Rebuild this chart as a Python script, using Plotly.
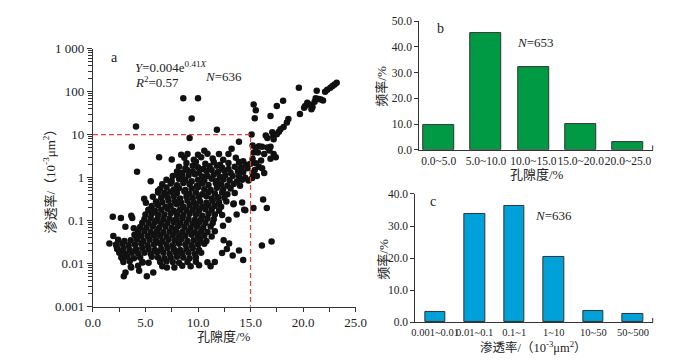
import plotly.graph_objects as go

# ---------------- Panel a: porosity (%) vs permeability (10^-3 um^2) ----------------
# upper outliers
por_hi = [8.6, 10.0, 9.4, 4.1, 11.8, 9.2, 3.7, 6.3, 7.5, 8.4, 9.0, 10.0, 4.2, 10.6, 10.9, 12.0, 13.2, 13.9, 15.1, 12.9]
perm_hi = [70, 70, 23.7, 15.4, 13.0, 8.4, 5.2, 3.0, 2.65, 3.4, 3.55, 3.4, 1.38, 4.2, 3.6, 3.55, 4.7, 6.8, 10.0, 3.55]
# right branch (15-19 %)
por_rb = [15.2, 15.3, 15.2, 15.5, 15.8, 16.1, 16.6, 16.9, 15.7, 16.3,
          17.2, 17.4, 16.9, 16.0, 15.5, 15.8, 16.1, 15.4, 15.2, 16.3,
          16.45, 16.6, 17.07, 17.17, 17.2, 17.5, 17.7, 17.85, 18.15, 18.46,
          18.6, 15.16, 15.6, 16.8]
perm_rb = [5.6, 3.85, 2.75, 4.98, 5.4, 5.2, 5.0, 5.2, 3.85, 3.55,
           3.55, 2.98, 2.75, 2.5, 2.15, 1.8, 1.65, 1.5, 1.28, 1.28,
           9.5, 8.3, 11.3, 9.1, 7.8, 10.2, 11.7, 13.4, 15.1, 19.2,
           23.2, 0.98, 1.1, 4.3]
# upper right (high permeability)
por_ur = [15.3, 15.5, 15.4, 17.5, 18.1, 16.9, 19.6, 19.7, 21.3, 20.2,
          20.4, 20.6, 20.9, 21.1, 21.2, 21.5, 21.7, 20.8, 22.1, 22.3,
          22.6, 22.8, 23.0, 23.2, 21.9, 20.1]
perm_ur = [50, 37, 24, 46, 61, 27, 122, 30, 105, 46,
           55, 50, 44, 58, 70, 67, 65, 39, 99, 110,
           122, 135, 145, 160, 62, 42]
# lower right sparse
por_lr = [16.2, 16.55, 15.28, 14.2, 14.5, 13.68, 13.37, 12.9, 12.38, 12.44,
          12.96, 12.75, 13.9, 13.3, 14.3, 16.08, 17.0, 12.29, 14.4, 13.4]
perm_lr = [0.312, 0.197, 0.197, 0.264, 0.175, 0.14, 0.24, 0.106, 0.076, 0.035,
           0.0295, 0.0221, 0.0203, 0.0155, 0.0123, 0.0266, 0.0327, 0.0177, 0.18, 0.25]
# left sparse
por_ls = [1.89, 2.66, 3.65, 3.74, 3.09, 1.94, 1.57, 3.95, 5.5, 4.88,
          5.04, 6.2, 5.28, 2.94, 3.1, 3.65, 4.4, 5.13, 5.74, 4.73,
          7.04, 7.75, 2.26, 2.72, 2.87, 3.89, 6.82, 6.9]
perm_ls = [0.124, 0.116, 0.131, 0.116, 0.072, 0.044, 0.0295, 0.047, 0.83, 0.324,
           0.26, 0.495, 0.178, 0.0051, 0.0063, 0.0082, 0.0069, 0.0051, 0.0063, 0.0107,
           0.0082, 0.0082, 0.0249, 0.0193, 0.0126, 0.067, 0.44, 0.42]
# dense core, read band by band
por_b1 = [8.7, 9.6, 10.3, 11.4, 12.4, 13.6, 14.3]
perm_b1 = [2.9, 2.6, 3.0, 2.8, 2.6, 2.9, 2.4]
por_b2 = [8.9, 9.8, 10.7, 11.5, 12.1, 12.9, 13.9, 14.6, 15.0]
perm_b2 = [2.2, 2.35, 2.1, 2.3, 2.0, 2.2, 2.3, 2.0, 2.1]
por_b3 = [8.2, 8.8, 9.5, 10.0, 10.5, 11.1, 11.8, 12.3, 12.9, 13.5, 14.1, 14.7]
perm_b3 = [1.8, 1.65, 1.9, 1.75, 1.6, 1.85, 1.9, 1.7, 1.6, 1.8, 1.75, 1.65]
por_b4 = [8.0, 8.5, 9.0, 9.5, 10.1, 10.8, 11.3, 11.9, 12.5, 13.1, 13.8, 14.3]
perm_b4 = [1.4, 1.3, 1.48, 1.4, 1.3, 1.42, 1.5, 1.35, 1.45, 1.3, 1.4, 1.33]
por_b5 = [7.6, 8.0, 8.5, 9.1, 9.7, 10.4, 10.9, 11.5, 12.1, 12.6, 13.3, 13.9, 14.5]
perm_b5 = [1.1, 1.18, 1.03, 1.12, 1.2, 1.06, 1.1, 1.17, 1.04, 1.13, 1.1, 1.06, 1.0]
por_b6 = [7.0, 7.5, 8.2, 8.8, 9.4, 10.0, 10.6, 11.3, 11.8, 12.4, 13.0, 13.7, 14.2, 14.8]
perm_b6 = [0.9, 0.84, 0.93, 0.87, 0.83, 0.9, 0.86, 0.94, 0.84, 0.91, 0.87, 0.82, 0.9, 0.86]
por_b7 = [6.6, 7.4, 8.0, 8.6, 9.2, 9.9, 10.4, 11.0, 11.7, 12.2, 12.8, 13.4, 14.0]
perm_b7 = [0.7, 0.73, 0.67, 0.75, 0.7, 0.65, 0.73, 0.68, 0.74, 0.7, 0.66, 0.71, 0.65]
por_b8 = [6.4, 7.0, 7.7, 8.2, 8.8, 9.4, 10.0, 10.6, 11.2, 11.8, 12.4, 13.1]
perm_b8 = [0.55, 0.59, 0.53, 0.57, 0.52, 0.56, 0.6, 0.54, 0.52, 0.58, 0.54, 0.56]
por_b9 = [6.2, 6.8, 7.4, 8.0, 8.7, 9.2, 9.8, 10.4, 11.0, 11.6, 12.3, 12.8, 13.5]
perm_b9 = [0.45, 0.42, 0.47, 0.44, 0.48, 0.42, 0.45, 0.41, 0.46, 0.43, 0.45, 0.41, 0.44]
por_b10 = [5.7, 6.5, 7.1, 7.7, 8.3, 8.9, 9.5, 10.1, 10.8, 11.3, 11.9, 12.5]
perm_b10 = [0.36, 0.34, 0.35, 0.37, 0.33, 0.36, 0.34, 0.35, 0.37, 0.33, 0.35, 0.34]
por_b11 = [6.0, 6.6, 7.2, 7.8, 8.4, 9.0, 9.6, 10.2, 10.8, 11.4, 12.0, 12.7]
perm_b11 = [0.28, 0.27, 0.29, 0.28, 0.26, 0.29, 0.27, 0.28, 0.26, 0.29, 0.27, 0.28]
por_b12 = [5.6, 6.2, 6.9, 7.4, 8.0, 8.6, 9.2, 9.8, 10.4, 11.0, 11.6, 12.2]
perm_b12 = [0.22, 0.23, 0.21, 0.22, 0.24, 0.21, 0.23, 0.22, 0.21, 0.23, 0.22, 0.21]
por_b13 = [5.3, 5.9, 6.5, 7.1, 7.7, 8.3, 8.9, 9.5, 10.1, 10.7, 11.3, 12.0]
perm_b13 = [0.18, 0.17, 0.18, 0.19, 0.17, 0.18, 0.175, 0.18, 0.17, 0.185, 0.18, 0.17]
por_b14 = [5.0, 5.6, 6.2, 6.8, 7.4, 8.0, 8.6, 9.2, 9.8, 10.4, 11.0, 11.6, 12.3]
perm_b14 = [0.14, 0.145, 0.135, 0.14, 0.15, 0.14, 0.135, 0.145, 0.14, 0.13, 0.145, 0.14, 0.135]
por_b15 = [4.9, 5.5, 6.1, 6.7, 7.3, 7.9, 8.5, 9.1, 9.7, 10.3, 10.9, 11.5]
perm_b15 = [0.11, 0.115, 0.105, 0.11, 0.112, 0.108, 0.115, 0.11, 0.105, 0.11, 0.113, 0.108]
por_b16 = [4.7, 5.3, 5.9, 6.5, 7.1, 7.7, 8.3, 8.9, 9.5, 10.1, 10.7, 11.4]
perm_b16 = [0.09, 0.088, 0.092, 0.087, 0.09, 0.093, 0.088, 0.09, 0.086, 0.091, 0.089, 0.088]
por_b17 = [4.5, 5.1, 5.7, 6.3, 6.9, 7.5, 8.1, 8.7, 9.3, 9.9, 10.5, 11.2]
perm_b17 = [0.071, 0.07, 0.073, 0.069, 0.072, 0.07, 0.074, 0.071, 0.069, 0.072, 0.07, 0.073]
por_b18 = [4.3, 4.9, 5.5, 6.1, 6.7, 7.3, 7.9, 8.5, 9.1, 9.7, 10.3, 10.9, 11.6]
perm_b18 = [0.056, 0.058, 0.055, 0.057, 0.054, 0.056, 0.058, 0.055, 0.057, 0.054, 0.056, 0.055, 0.057]
por_b19 = [4.1, 4.6, 5.2, 5.8, 6.4, 7.0, 7.6, 8.2, 8.8, 9.4, 10.0, 10.6, 11.3]
perm_b19 = [0.044, 0.045, 0.044, 0.046, 0.045, 0.043, 0.046, 0.044, 0.045, 0.047, 0.044, 0.045, 0.043]
por_b20 = [2.4, 3.0, 3.6, 4.2, 4.8, 5.4, 6.0, 6.6, 7.2, 7.8, 8.4, 9.0, 9.6, 10.2, 10.8]
perm_b20 = [0.036, 0.034, 0.035, 0.037, 0.034, 0.036, 0.035, 0.034, 0.036, 0.035, 0.037, 0.034, 0.035, 0.036, 0.034]
por_b21 = [2.2, 2.8, 3.4, 4.0, 4.6, 5.2, 5.8, 6.4, 7.0, 7.6, 8.2, 8.8, 9.4, 10.0, 10.6]
perm_b21 = [0.028, 0.029, 0.027, 0.028, 0.029, 0.027, 0.028, 0.029, 0.028, 0.027, 0.029, 0.028, 0.027, 0.028, 0.029]
por_b22 = [2.3, 2.9, 3.5, 4.1, 4.7, 5.3, 5.9, 6.5, 7.1, 7.7, 8.3, 8.9, 9.5, 10.1]
perm_b22 = [0.022, 0.023, 0.021, 0.022, 0.023, 0.022, 0.021, 0.022, 0.023, 0.022, 0.021, 0.022, 0.023, 0.021]
por_b23 = [2.5, 3.1, 3.7, 4.3, 4.9, 5.5, 6.1, 6.7, 7.3, 7.9, 8.5, 9.1, 9.7, 10.3]
perm_b23 = [0.018, 0.017, 0.018, 0.0175, 0.018, 0.017, 0.0185, 0.018, 0.017, 0.018, 0.0175, 0.018, 0.017, 0.018]
por_b24 = [2.7, 3.3, 3.9, 4.5, 5.6, 6.2, 6.8, 7.4, 8.0, 8.6, 9.2, 9.8]
perm_b24 = [0.014, 0.0145, 0.0135, 0.014, 0.0145, 0.014, 0.0135, 0.014, 0.0145, 0.014, 0.0135, 0.014]
por_b25 = [2.9, 3.5, 4.7, 5.3, 6.4, 7.0, 7.6, 8.2, 9.0, 9.8, 10.9, 11.6]
perm_b25 = [0.011, 0.0115, 0.011, 0.0105, 0.011, 0.0115, 0.011, 0.0105, 0.011, 0.0112, 0.0108, 0.011]
por_b26 = [3.6, 4.3, 6.6, 8.5, 9.3, 10.1, 11.2]
perm_b26 = [0.0085, 0.009, 0.0088, 0.009, 0.0087, 0.0092, 0.0088]

por_groups = [por_hi, por_rb, por_ur, por_lr, por_ls, por_b1, por_b2, por_b3, por_b4, por_b5,
              por_b6, por_b7, por_b8, por_b9, por_b10, por_b11, por_b12, por_b13, por_b14,
              por_b15, por_b16, por_b17, por_b18, por_b19, por_b20, por_b21, por_b22,
              por_b23, por_b24, por_b25, por_b26]
perm_groups = [perm_hi, perm_rb, perm_ur, perm_lr, perm_ls, perm_b1, perm_b2, perm_b3, perm_b4, perm_b5,
               perm_b6, perm_b7, perm_b8, perm_b9, perm_b10, perm_b11, perm_b12, perm_b13, perm_b14,
               perm_b15, perm_b16, perm_b17, perm_b18, perm_b19, perm_b20, perm_b21, perm_b22,
               perm_b23, perm_b24, perm_b25, perm_b26]
porosity, permeability = [], []
for pg, kg in zip(por_groups, perm_groups):
    for p, k in zip(pg, kg):
        porosity.append(p)
        permeability.append(k)

threshold_por = 15.0
threshold_perm = 10.0
a_ytick_vals = [0.001, 0.01, 0.1, 1, 10, 100, 1000]
a_ytick_text = ["0.001", "0.01", "0.1", "1", "10", "100", "1 000"]

# ---------------- Panel b: porosity histogram ----------------
por_bins = ["0.0~5.0", "5.0~10.0", "10.0~15.0", "15.0~20.0", "20.0~25.0"]
por_freq = [9.7, 45.5, 32.0, 10.2, 2.9]

# ---------------- Panel c: permeability histogram ----------------
perm_bins = ["0.001~0.01", "0.01~0.1", "0.1~1", "1~10", "10~50", "50~500"]
perm_freq = [3.2, 33.7, 36.2, 20.3, 3.7, 2.7]

FONT = "Liberation Serif, Noto Sans CJK SC, serif"
AX = "#333333"
TXT = "#222222"
W, H = 700, 364

fig = go.Figure()
fig.add_trace(go.Scatter(x=porosity, y=permeability, mode="markers",
                         marker=dict(size=6.5, color="#111111", line=dict(width=0)),
                         xaxis="x", yaxis="y", showlegend=False, hoverinfo="skip"))
fig.add_trace(go.Scatter(x=[0, threshold_por, threshold_por],
                         y=[threshold_perm, threshold_perm, 0.001],
                         mode="lines", line=dict(color="#e8413c", width=1.2, dash="5px,3px"),
                         xaxis="x", yaxis="y", showlegend=False, hoverinfo="skip", cliponaxis=False))
fig.add_trace(go.Bar(x=por_bins, y=por_freq, width=0.66,
                     marker=dict(color="#009a44", line=dict(color="#333333", width=1)),
                     xaxis="x2", yaxis="y2", showlegend=False))
fig.add_trace(go.Bar(x=perm_bins, y=perm_freq, width=0.52,
                     marker=dict(color="#00a0d9", line=dict(color="#333333", width=1)),
                     xaxis="x3", yaxis="y3", showlegend=False))

axis_common = dict(showline=True, linecolor=AX, linewidth=1, showgrid=False, zeroline=False,
                   tickcolor=AX, tickfont=dict(family=FONT, size=13, color=TXT))

fig.update_layout(
    width=W, height=H, autosize=False,
    margin=dict(l=0, r=0, t=0, b=0),
    paper_bgcolor="white", plot_bgcolor="white",
    font=dict(family=FONT, color=TXT),
    bargap=0,
    xaxis=dict(axis_common, domain=[87.3 / W, 357.3 / W], range=[0, 25], anchor="y",
               ticks="outside", ticklen=4, tick0=0, dtick=5, tickformat=".1f",
               minor=dict(ticks="outside", ticklen=4, dtick=2.5, tickcolor=AX, showgrid=False)),
    yaxis=dict(axis_common, domain=[(H - 312.7) / H, (H - 43.3) / H], type="log", range=[-3, 3],
               anchor="x", ticks="outside", ticklen=5, tickmode="array",
               tickvals=a_ytick_vals, ticktext=a_ytick_text,
               minor=dict(ticks="outside", ticklen=4, dtick="D1", tickcolor=AX, showgrid=False)),
    xaxis2=dict(axis_common, domain=[422.7 / W, 662.7 / W], range=[-0.41, 4.52], anchor="y2",
                type="category", ticks="", tickangle=0,
                tickfont=dict(family=FONT, size=11.5, color=TXT)),
    yaxis2=dict(axis_common, domain=[(H - 149) / H, (H - 14.7) / H], range=[0, 50], anchor="x2",
                ticks="outside", ticklen=4, dtick=10, tickformat=".1f",
                tickfont=dict(family=FONT, size=11.5, color=TXT)),
    xaxis3=dict(axis_common, domain=[418.7 / W, 662.7 / W], range=[-0.5, 5.5], anchor="y3",
                type="category", ticks="", tickangle=0,
                tickfont=dict(family=FONT, size=10.5, color=TXT)),
    yaxis3=dict(axis_common, domain=[(H - 329) / H, (H - 195) / H], range=[0, 40], anchor="x3",
                ticks="outside", ticklen=4, dtick=10, tickformat=".1f",
                tickfont=dict(family=FONT, size=11.5, color=TXT)),
)

# small end ticks at right end of histogram x axes
for xr, yr in (("x2 domain", "y2 domain"), ("x3 domain", "y3 domain")):
    fig.add_shape(type="line", xref=xr, yref=yr, x0=1, x1=1, y0=0, y1=0.035,
                  line=dict(color=AX, width=1))

def ann(text, px, py, size=13, angle=0, xanchor="center"):
    fig.add_annotation(text=text, x=px / W, y=(H - py) / H, xref="paper", yref="paper",
                       showarrow=False, xanchor=xanchor, yanchor="middle", textangle=angle,
                       font=dict(family=FONT, size=size, color=TXT))

perm_title = "渗透率/（10<sup>-3</sup>μm<sup>2</sup>）"
ann("a", 109, 53, size=14)
ann("<i>Y</i>=0.004e<sup>0.41<i>X</i></sup>", 128, 62.5, xanchor="left")
ann("<i>R</i><sup>2</sup>=0.57", 128, 78.5, xanchor="left")
ann("<i>N</i>=636", 221.5, 72.7)
ann("孔隙度/%", 222.5, 344)
ann(perm_title, 42, 178, angle=-90)

ann("b", 445, 22.7, size=14)
ann("<i>N</i>=653", 542.5, 37.3)
ann("孔隙度/%", 543.3, 175)
ann("频率/%", 384, 82.5, angle=-90)

ann("c", 437, 202.7, size=14)
ann("<i>N</i>=636", 560.8, 217.3)
ann(perm_title, 540, 354.5, size=12.5)
ann("频率/%", 386, 263, angle=-90)

fig.write_html("out.html", config={"displayModeBar": False},
               post_script="document.body.style.margin='0';document.body.style.overflow='hidden';")
